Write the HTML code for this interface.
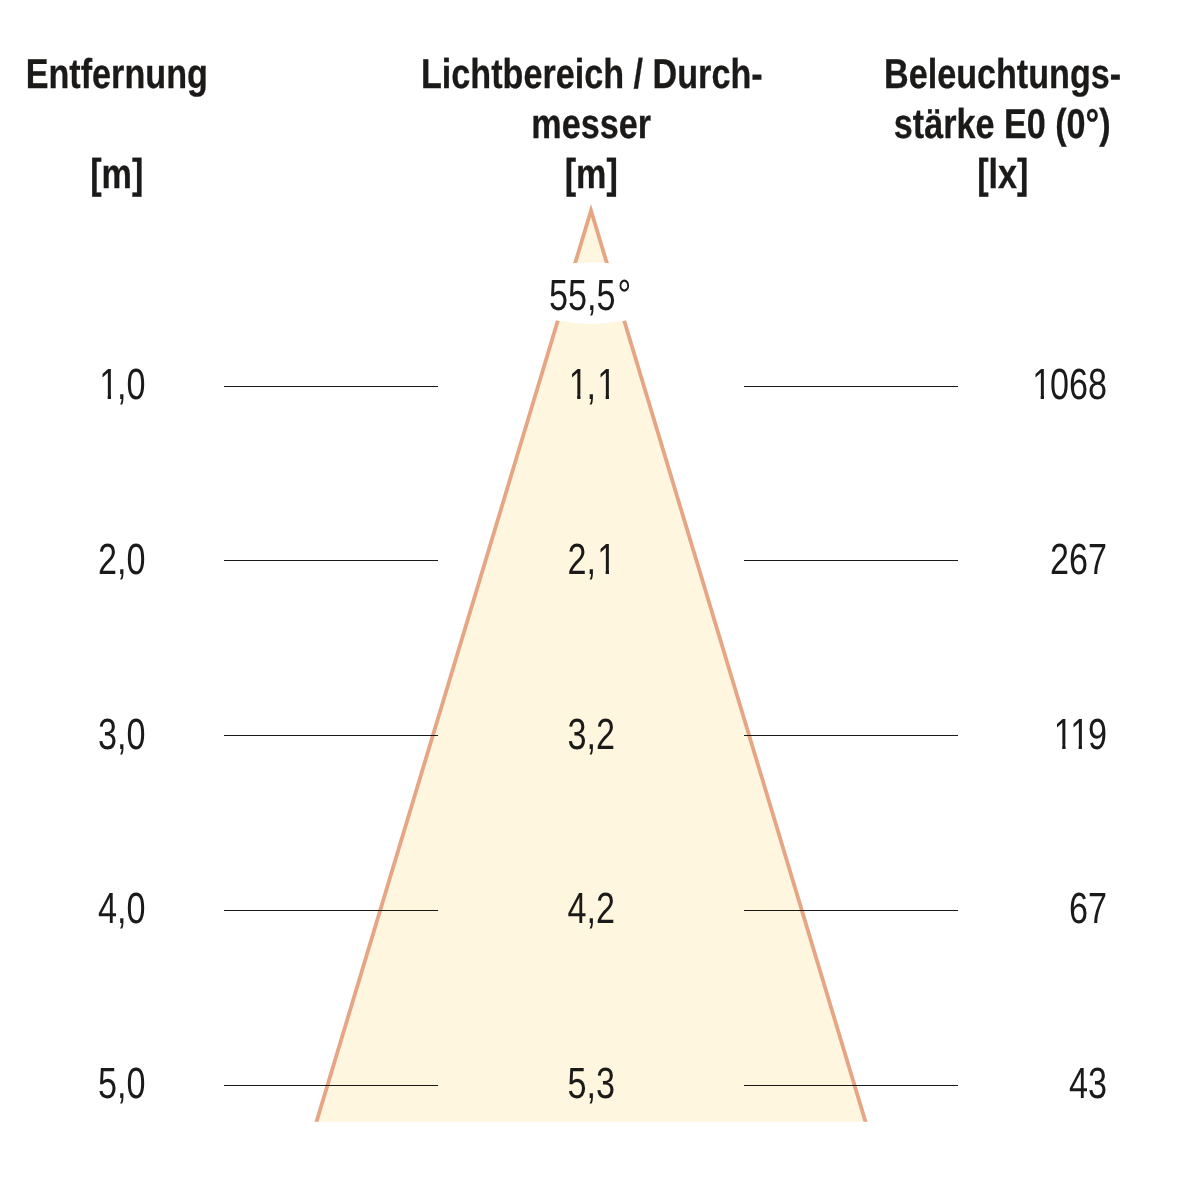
<!DOCTYPE html>
<html lang="de">
<head>
<meta charset="utf-8">
<title>Lichtkegel</title>
<style>
html,body{margin:0;padding:0;background:#fff;}
body{width:1182px;height:1182px;overflow:hidden;}
svg{display:block;will-change:transform;text-rendering:geometricPrecision;font-family:"Liberation Sans",Arial,Helvetica,sans-serif;font-size:41.7px;fill:#1b1a19;}
.n{font-size:43.6px;}
</style>
</head>
<body>
<svg width="1182" height="1182" viewBox="0 0 1182 1182">
<defs><clipPath id="cut"><rect x="0" y="0" width="1182" height="1121.7"/></clipPath></defs>
<rect width="1182" height="1182" fill="#fff"/>
<g clip-path="url(#cut)">
<polygon points="591.0,210.5 304.45,1161.7 877.55,1161.7" fill="#fef6df"/>
<polyline points="304.45,1161.7 591.0,210.5 877.55,1161.7" fill="none" stroke="#e6a585" stroke-width="3.8" stroke-linejoin="miter" stroke-miterlimit="10"/>
</g>
<ellipse cx="591" cy="293.1" rx="72" ry="30.8" fill="#fff"/>
<rect x="224" y="386" width="214" height="1" fill="#1b1a19"/>
<rect x="744" y="386" width="214" height="1" fill="#1b1a19"/>
<rect x="224" y="560" width="214" height="1" fill="#1b1a19"/>
<rect x="744" y="560" width="214" height="1" fill="#1b1a19"/>
<rect x="224" y="735" width="214" height="1" fill="#1b1a19"/>
<rect x="744" y="735" width="214" height="1" fill="#1b1a19"/>
<rect x="224" y="910" width="214" height="1" fill="#1b1a19"/>
<rect x="744" y="910" width="214" height="1" fill="#1b1a19"/>
<rect x="224" y="1085" width="214" height="1" fill="#1b1a19"/>
<rect x="744" y="1085" width="214" height="1" fill="#1b1a19"/>
<text transform="translate(116.8 88) scale(0.8194 1)" text-anchor="middle" font-weight="700" stroke="#1b1a19" stroke-width="0.3">Entfernung</text>
<text transform="translate(116.8 188) scale(0.8194 1)" text-anchor="middle" font-weight="700" stroke="#1b1a19" stroke-width="0.3">[m]</text>
<text transform="translate(591.8 88) scale(0.8194 1)" text-anchor="middle" font-weight="700" stroke="#1b1a19" stroke-width="0.3">Lichtbereich / Durch-</text>
<text transform="translate(591.2 138) scale(0.8194 1)" text-anchor="middle" font-weight="700" stroke="#1b1a19" stroke-width="0.3">messer</text>
<text transform="translate(591.2 188) scale(0.8194 1)" text-anchor="middle" font-weight="700" stroke="#1b1a19" stroke-width="0.3">[m]</text>
<text transform="translate(1002.6 88) scale(0.8194 1)" text-anchor="middle" font-weight="700" stroke="#1b1a19" stroke-width="0.3">Beleuchtungs-</text>
<text transform="translate(1002.2 138) scale(0.8194 1)" text-anchor="middle" font-weight="700" stroke="#1b1a19" stroke-width="0.3">stärke E0 (0°)</text>
<text transform="translate(1002.8 188) scale(0.8194 1)" text-anchor="middle" font-weight="700" stroke="#1b1a19" stroke-width="0.3">[lx]</text>
<text transform="translate(548.9 310) scale(0.7837 1)" x="0.00 24.23 48.48 60.59 87.40" class="n">55,5°</text>
<text transform="translate(98.1 399) scale(0.7837 1)" x="1.44 24.23 36.34" class="n">1,0</text>
<g transform="translate(98.1 399) scale(0.7837 1)" fill="#fff"><rect x="3.78" y="-4.56" width="8.42" height="6.06"/><rect x="16.45" y="-4.56" width="8.08" height="6.06"/></g>
<text transform="translate(591.35 399) scale(0.7837 1)" x="-28.87 -6.07 7.48" class="n">1,1</text>
<g transform="translate(591.35 399) scale(0.7837 1)" fill="#fef6df"><rect x="-26.53" y="-4.56" width="8.42" height="6.06"/><rect x="-13.85" y="-4.56" width="8.08" height="6.06"/><rect x="9.82" y="-4.56" width="8.42" height="6.06"/><rect x="22.49" y="-4.56" width="8.08" height="6.06"/></g>
<text transform="translate(1107.1 399) scale(0.7837 1)" x="-95.55 -72.75 -48.50 -24.27" class="n">1068</text>
<g transform="translate(1107.1 399) scale(0.7837 1)" fill="#fff"><rect x="-93.21" y="-4.56" width="8.42" height="6.06"/><rect x="-80.53" y="-4.56" width="8.08" height="6.06"/></g>
<text transform="translate(98.1 574) scale(0.7837 1)" x="0.00 24.23 36.34" class="n">2,0</text>
<text transform="translate(591.35 574) scale(0.7837 1)" x="-30.30 -6.07 7.48" class="n">2,1</text>
<g transform="translate(591.35 574) scale(0.7837 1)" fill="#fef6df"><rect x="9.82" y="-4.56" width="8.42" height="6.06"/><rect x="22.49" y="-4.56" width="8.08" height="6.06"/></g>
<text transform="translate(1107.1 574) scale(0.7837 1)" x="-72.73 -48.50 -24.25" class="n">267</text>
<text transform="translate(98.1 749) scale(0.7837 1)" x="0.00 24.23 36.34" class="n">3,0</text>
<text transform="translate(591.35 749) scale(0.7837 1)" x="-30.30 -6.07 6.04" class="n">3,2</text>
<text transform="translate(1107.1 749) scale(0.7837 1)" x="-68.06 -47.06 -24.25" class="n">119</text>
<g transform="translate(1107.1 749) scale(0.7837 1)" fill="#fff"><rect x="-65.72" y="-4.56" width="8.42" height="6.06"/><rect x="-53.05" y="-4.56" width="8.08" height="6.06"/><rect x="-44.72" y="-4.56" width="8.42" height="6.06"/><rect x="-32.05" y="-4.56" width="8.08" height="6.06"/></g>
<text transform="translate(98.1 923) scale(0.7837 1)" x="0.00 24.23 36.34" class="n">4,0</text>
<text transform="translate(591.35 923) scale(0.7837 1)" x="-30.30 -6.07 6.04" class="n">4,2</text>
<text transform="translate(1107.1 923) scale(0.7837 1)" x="-48.50 -24.27" class="n">67</text>
<text transform="translate(98.1 1098) scale(0.7837 1)" x="0.00 24.23 36.34" class="n">5,0</text>
<text transform="translate(591.35 1098) scale(0.7837 1)" x="-30.30 -6.07 6.04" class="n">5,3</text>
<text transform="translate(1107.1 1098) scale(0.7837 1)" x="-48.50 -24.27" class="n">43</text>
</svg>
</body>
</html>
